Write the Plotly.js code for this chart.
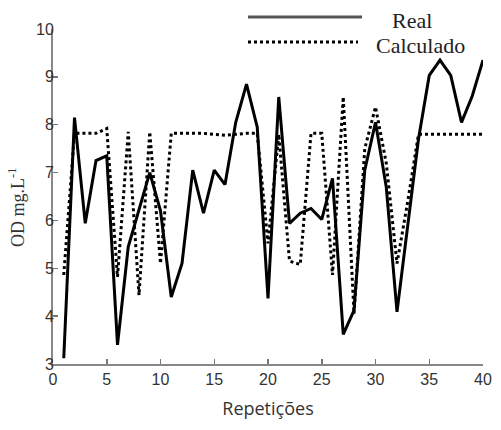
<!DOCTYPE html>
<html>
<head>
<meta charset="utf-8">
<script src="https://cdn.plot.ly/plotly-3.0.1.min.js"></script>
<style>html,body{margin:0;padding:0;background:#fff;}#chart{width:501px;height:430px;}</style>
</head>
<body>
<div id="chart"></div>
<script>
const repeticoes = [1,2,3,4,5,6,7,8,9,10,11,12,13,14,15,16,17,18,19,20,21,22,23,24,25,26,27,28,29,30,31,32,33,34,35,36,37,38,39,40];
const real = [3.12,8.15,5.94,7.25,7.35,3.40,5.45,6.25,7.0,6.2,4.4,5.1,7.05,6.15,7.05,6.75,8.05,8.85,7.95,4.37,8.58,5.94,6.15,6.25,6.02,6.88,3.62,4.12,7.05,8.05,6.7,4.09,5.9,7.7,9.03,9.35,9.03,8.05,8.6,9.35];
const calculado = [4.86,7.82,7.82,7.82,7.92,4.82,7.85,4.44,7.85,5.10,7.82,7.82,7.82,7.82,7.8,7.78,7.8,7.82,7.82,5.52,7.8,5.15,5.08,7.82,7.82,4.86,8.58,4.05,7.5,8.37,7.2,5.1,6.4,7.8,7.8,7.8,7.8,7.8,7.8,7.8];
const xTicks = [0,5,10,15,20,25,30,35,40];
const yTicks = [3,4,5,6,7,8,9,10];
const seriesNames = ['Real','Calculado'];
const xTitle = 'Repetições';
const yTitle = 'OD mg.L<sup>-1</sup>';

const traces = [
  {x: repeticoes, y: real, name: seriesNames[0], mode: 'lines', line: {color: '#000', width: 3}},
  {x: repeticoes, y: calculado, name: seriesNames[1], mode: 'lines', line: {color: '#000', width: 3, dash: 'dot'}}
];

const serif = 'Liberation Serif, Times New Roman, serif';
const sans = 'Liberation Sans, Arial, sans-serif';
const axisCommon = {
  showline: true, linecolor: '#888', linewidth: 2,
  ticks: 'inside', ticklen: 5, tickwidth: 1.5, tickcolor: '#777',
  showgrid: false, zeroline: false,
  tickfont: {family: sans, size: 16, color: '#333'}
};

const layout = {
  width: 501, height: 430,
  margin: {l: 53, r: 18, t: 29, b: 66},
  paper_bgcolor: '#fff', plot_bgcolor: '#fff',
  showlegend: false,
  xaxis: Object.assign({}, axisCommon, {
    range: [0, 40], tickvals: xTicks, ticktext: xTicks.map(String),
    title: {text: xTitle, font: {family: 'Open Sans, sans-serif', size: 18, color: '#333'}, standoff: 15}
  }),
  yaxis: Object.assign({}, axisCommon, {
    range: [3, 10], tickvals: yTicks, ticktext: yTicks.map(String),
    ticklabelstandoff: -6
  }),
  shapes: [
    {type: 'line', xref: 'paper', yref: 'paper', x0: (248-53)/430, x1: (362-53)/430, y0: (364-17)/335, y1: (364-17)/335, line: {color: '#555', width: 3}},
    {type: 'line', xref: 'paper', yref: 'paper', x0: (248-53)/430, x1: (358-53)/430, y0: (364-42)/335, y1: (364-42)/335, line: {color: '#000', width: 3, dash: 'dot'}}
  ],
  annotations: [
    {text: seriesNames[0], xref: 'paper', yref: 'paper', x: (412-53)/430, y: (364-20)/335, showarrow: false, xanchor: 'center', yanchor: 'middle', font: {family: serif, size: 22, color: '#222'}},
    {text: seriesNames[1], xref: 'paper', yref: 'paper', x: (420-53)/430, y: (364-45)/335, showarrow: false, xanchor: 'center', yanchor: 'middle', font: {family: serif, size: 22, color: '#222'}},
    {text: yTitle, xref: 'paper', yref: 'paper', x: (17-53)/430, y: (364-207)/335, showarrow: false, textangle: -90, xanchor: 'center', yanchor: 'middle', font: {family: serif, size: 18, color: '#333'}}
  ]
};

Plotly.newPlot('chart', traces, layout, {displayModeBar: false, staticPlot: true});
</script>
</body>
</html>
